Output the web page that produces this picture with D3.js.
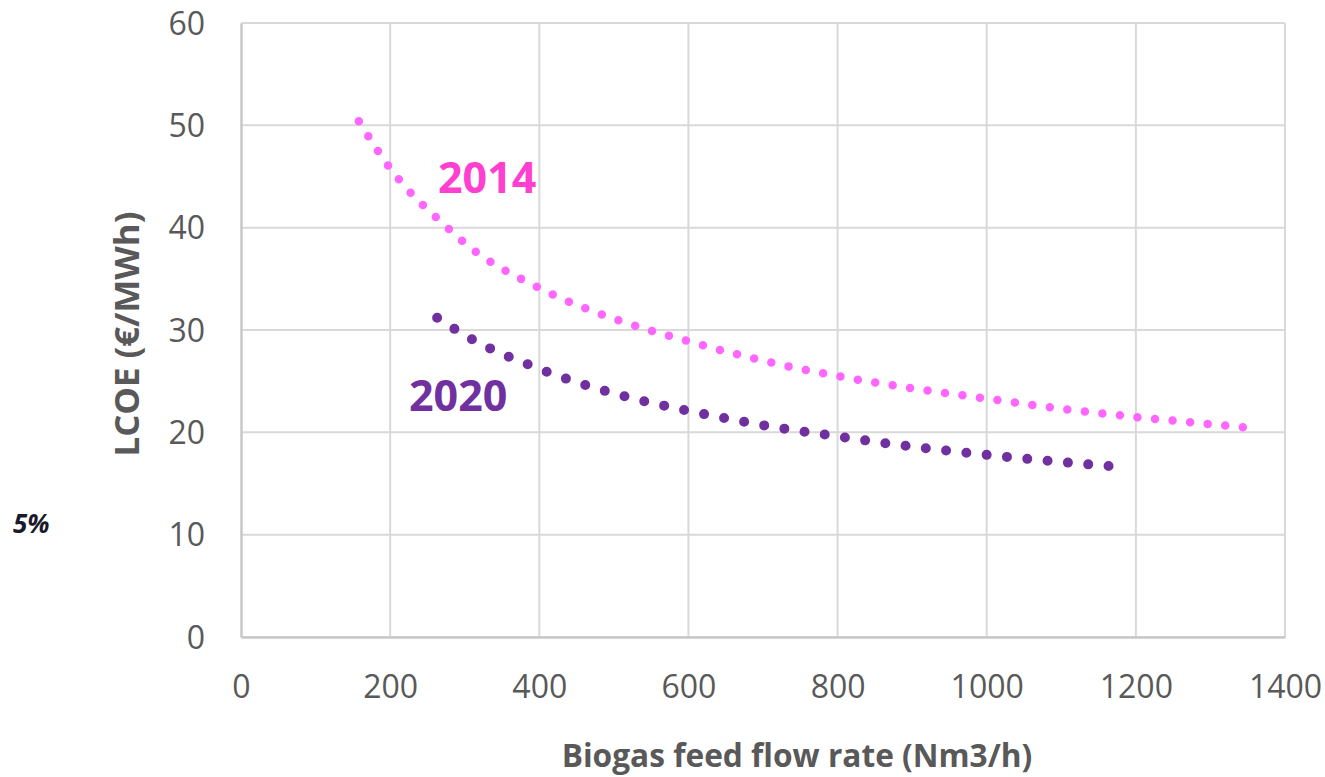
<!DOCTYPE html>
<html>
<head>
<meta charset="utf-8">
<script src="https://cdn.jsdelivr.net/npm/d3@7"></script>
<style>
  html, body { margin: 0; padding: 0; background: #fff; }
  svg { display: block; }
</style>
</head>
<body>
<svg id="chart" width="1325" height="777"></svg>
<script>
// ---- data ----
const xTicks = [0, 200, 400, 600, 800, 1000, 1200, 1400];
const yTicks = [0, 10, 20, 30, 40, 50, 60];

const flow2014 = [158, 200, 283, 300, 400, 500, 600, 700, 800, 900, 1000, 1100, 1200, 1300, 1344];
const lcoe2014 = [50.4, 45.8, 39.6, 38.5, 34.1, 31.1, 28.9, 27.0, 25.5, 24.3, 23.3, 22.3, 21.5, 20.8, 20.5];

const flow2020 = [263, 300, 400, 500, 600, 700, 800, 900, 1000, 1100, 1164];
const lcoe2020 = [31.2, 29.5, 26.2, 23.8, 22.1, 20.7, 19.6, 18.6, 17.8, 17.1, 16.7];

const seriesLabels = ["2014", "2020"];
const xTitle = "Biogas feed flow rate (Nm3/h)";
const yTitle = "LCOE (€/MWh)";
const sideNote = "5%";

(function () {
// ---- layout ----
const svg = d3.select("#chart");
const pL = 241, pR = 1285, pT = 23, pB = 637;
const x = d3.scaleLinear().domain([0, 1400]).range([pL, pR]);
const y = d3.scaleLinear().domain([0, 60]).range([pB, pT]);
const font = "'Open Sans', 'Liberation Sans', sans-serif";
const grey = "#595959";

// gridlines
svg.append("g").selectAll("line").data(yTicks).join("line")
  .attr("x1", pL).attr("x2", pR)
  .attr("y1", d => y(d)).attr("y2", d => y(d))
  .attr("stroke", "#d9d9d9").attr("stroke-width", 2);
svg.append("g").selectAll("line").data(xTicks.filter(d => d > 0)).join("line")
  .attr("x1", d => x(d)).attr("x2", d => x(d))
  .attr("y1", pT).attr("y2", pB)
  .attr("stroke", "#d9d9d9").attr("stroke-width", 2);

// axes via d3 axis, styled
const xAxis = svg.append("g").attr("transform", `translate(0,${pB})`)
  .call(d3.axisBottom(x).tickValues(xTicks).tickSize(0).tickPadding(38).tickFormat(d3.format("d")));
const yAxis = svg.append("g").attr("transform", `translate(${pL},0)`)
  .call(d3.axisLeft(y).tickValues(yTicks).tickSize(0).tickPadding(36).tickFormat(d3.format("d")));
[xAxis, yAxis].forEach(g => {
  g.select(".domain").attr("stroke", "#c8c8c8").attr("stroke-width", 2.5);
  g.selectAll("text").attr("font-family", font).attr("font-size", 32).attr("fill", grey);
});
xAxis.selectAll("text").attr("dy", "0.71em").attr("y", 38);
yAxis.selectAll("text").attr("dy", "0.35em");

// series (round-dot line style)
const line = d3.line().x(d => x(d[0])).y(d => y(d[1])).curve(d3.curveMonotoneX);
function dotted(data, color, width, gap) {
  const p = svg.append("path").attr("d", line(data))
    .attr("fill", "none").attr("stroke", color).attr("stroke-width", width)
    .attr("stroke-linecap", "round");
  const len = p.node().getTotalLength();
  const n = Math.max(1, Math.round(len / gap));
  p.attr("stroke-dasharray", `0 ${(len - 0.5) / n}`);
}
dotted(d3.zip(flow2014, lcoe2014), "#ff66ff", 8.5, 17.7);
dotted(d3.zip(flow2020, lcoe2020), "#7030a0", 10, 20.2);

// series labels
svg.append("text").text(seriesLabels[0])
  .attr("x", 438).attr("y", 193).attr("font-family", font).attr("font-weight", 700)
  .attr("font-size", 43).attr("fill", "#ff3fd0");
svg.append("text").text(seriesLabels[1])
  .attr("x", 409).attr("y", 411).attr("font-family", font).attr("font-weight", 700)
  .attr("font-size", 43).attr("fill", "#7030a0");

// axis titles
function fit(sel, target) {
  const w = sel.node().getComputedTextLength();
  const fs = parseFloat(sel.attr("font-size"));
  if (w > 0) sel.attr("font-size", fs * target / w);
}
const xt = svg.append("text").text(xTitle)
  .attr("x", 797).attr("y", 767).attr("text-anchor", "middle")
  .attr("font-family", font).attr("font-weight", 700).attr("font-size", 30).attr("fill", grey);
fit(xt, 471);
const yt = svg.append("text").text(yTitle)
  .attr("transform", "translate(139,334) rotate(-90)").attr("text-anchor", "middle")
  .attr("font-family", font).attr("font-weight", 700).attr("font-size", 30).attr("fill", grey);
fit(yt, 245);

// side note
svg.append("text").text(sideNote)
  .attr("x", 13).attr("y", 533).attr("font-family", font).attr("font-weight", 700)
  .attr("font-style", "italic").attr("font-size", 26).attr("fill", "#1a1a2a");
})();
</script>
</body>
</html>
